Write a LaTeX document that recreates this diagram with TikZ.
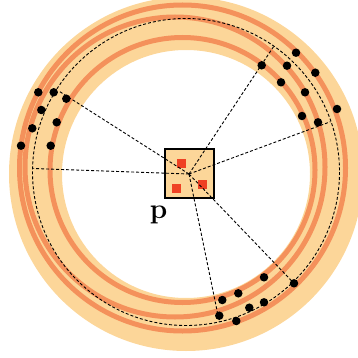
\documentclass[tikz,border=0pt]{standalone}
\definecolor{band}{RGB}{252,214,153}
\definecolor{ringc}{RGB}{240,100,50}
\definecolor{sq}{RGB}{239,65,35}
\tikzset{
  ring/.style={draw=ringc,draw opacity=0.6,line width=5pt},
  dotn/.style={circle,fill=black,inner sep=0pt,minimum size=8.5pt},
  ray/.style={draw=black,line width=0.9pt,dash pattern=on 3pt off 2pt},
  sqn/.style={fill=sq,inner sep=0pt,minimum size=9pt}
}
\begin{document}
\begin{tikzpicture}[x=1pt,y=-1pt]
\useasboundingbox (0,0) rectangle (358,358);
\clip (0,0) rectangle (358,358);
% band
\fill[band,even odd rule] (186,174) circle[radius=177] (186,174) circle[radius=124];
% rings
\draw[ring] (182.5,170) circle[radius=132.5];
\draw[ring] (175,167) circle[radius=150];
\draw[ring] (182.5,168) circle[radius=163];
% fitted dashed circle
\draw[ray] (186,172) circle[radius=153.5];
% box
\node[draw,line width=2pt,fill=band,minimum size=49pt,inner sep=0pt] (box) at (189.5,173.5) {};
\node[sqn] (s1) at (181,163) {};
\node[sqn] (s2) at (176.5,188.5) {};
\node[sqn] (s3) at (202.5,184.5) {};
\node[font=\fontsize{28}{28}\selectfont\bfseries,anchor=base,inner sep=0pt] (plabel) at (158.5,218) {p};
% rays
\coordinate (c) at (189,174);
\coordinate (e1) at (58.3,90.7);
\coordinate (e2) at (33.3,168.5);
\coordinate (e3) at (273.5,46.7);
\coordinate (e4) at (330.5,121.7);
\coordinate (e5) at (219.3,321.7);
\coordinate (e6) at (294,283.3);
\foreach \e in {e1,e2,e3,e4,e5,e6} \draw[ray] (c) -- (\e);
% dots
\foreach \n/\x/\y in {
 a1/38.3/92.3, a2/53.7/92.3, a3/66.3/98.7, a4/41.3/110, a5/56.7/122.3, a6/32.3/128.3, a7/21/145.7, a8/50.7/145.7,
 b1/296/52.7, b2/261.7/65.3, b3/287/65.7, b4/315.3/72.7, b5/281/82.3, b6/305/92.3, b7/337/109, b8/302/116, b9/318/122.3,
 c1/264/277.3, c2/294/283.3, c3/238.3/293.3, c4/222.3/300, c5/264/302.3, c6/249.3/307.7, c7/219.3/315.7, c8/236.3/321}
 \node[dotn] (\n) at (\x,\y) {};
\end{tikzpicture}
\end{document}
